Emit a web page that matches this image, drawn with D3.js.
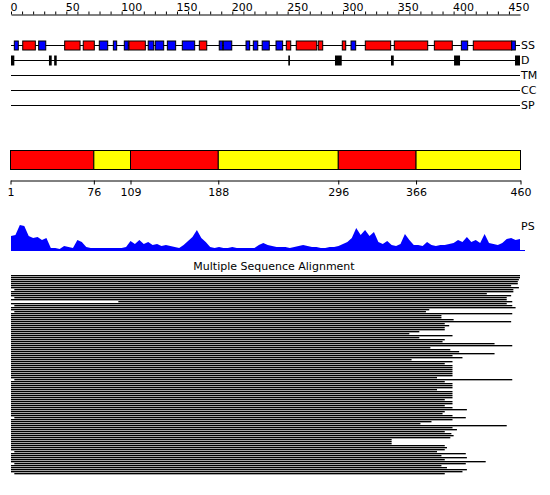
<!DOCTYPE html>
<html>
<head>
<meta charset="utf-8">
<script src="https://cdn.jsdelivr.net/npm/d3@7"></script>
<style>
  html, body { margin: 0; padding: 0; background: #fff; }
  svg { display: block; font-family: "DejaVu Sans", sans-serif; }
</style>
</head>
<body>
<div id="chart"></div>
<script>
// ---------------- DATA ----------------
const seqLength = 460;
const axisTicks = [0,10,20,30,40,50,60,70,80,90,100,110,120,130,140,150,160,170,180,190,200,210,220,230,240,250,260,270,280,290,300,310,320,330,340,350,360,370,380,390,400,410,420,430,440,450];
const axisLabels = [0,50,100,150,200,250,300,350,400,450];

// Secondary structure segments (H = helix red, E = strand blue)
const ssStart = [3,10.6,25,48.5,65.3,79.8,92.5,102.4,106.6,124,130.4,141.3,154.8,170.2,188.2,191.9,212.4,219,227,239.5,248.8,257.8,277.7,299.4,307.3,320.2,346.4,382.6,407,417.8,452.5];
const ssEnd   = [6.6,22,31.4,62.4,75.3,87.4,95.5,106,121.4,129,138,148.8,166,176.9,191.3,199.5,215.7,223,233.4,245.5,252.8,276.3,281.7,302.5,311.5,343.1,376.6,398.8,412.7,452.5,455.8];
const ssType  = ['E','H','E','H','H','E','E','E','H','E','E','E','E','H','E','E','E','E','E','E','H','H','H','H','E','H','H','H','E','H','E'];

// Disorder segments
const disStart = [0,34.3,39,250.6,292.8,343.4,400.4,455.5];
const disEnd   = [3,36.8,41.3,252.1,298.9,345.9,405.8,460];

const trackNames = ['SS','D','TM','CC','SP'];

// Domain boundaries
const domainStart = [1,76,109,188,296,366];
const domainEnd   = [76,109,188,296,366,460];
const domainClass = ['A','B','A','B','A','B'];
const domainTicks = [1,76,109,188,296,366,460];

// Prediction strength profile (every 4 residues)
const psValues = [14,15,25,24,14,12,13,10,12,2,2,1,4,3,2,10,8,3,2,2,2,2,2,2,2,2,3,9,6,10,6,8,5,6,4,5,4,3,2,5,9,13,20,12,8,3,2,3,2,2,3,2,2,2,2,2,5,7,5,4,3,3,3,2,3,4,5,4,3,3,2,2,3,3,4,6,8,12,22,15,20,14,18,8,6,9,5,4,6,16,10,5,5,4,8,5,4,5,5,6,7,10,8,13,8,10,7,16,7,6,5,7,11,12,10,11];
const psStep = 4;

// Multiple sequence alignment: aligned residue range per sequence
const msaStart = [0,0,0,0,0,0,0,3,0,0,0,3,0,97,0,3,0,0,3,0,0,0,0,0,0,0,0,0,0,0,0,0,0,0,0,0,0,0,0,0,0,0,0,0,0,0,0,0,0,0,0,0,3,0,0,0,0,0,0,0,0,0,0,0,0,0,0,0,0,0,0,3,0,0,0,0,0,0,0,0,0,0,0,0,0,0,0,0,3,0,0,0,0,0,3,0,0,0,0,3];
const msaEnd = [460,460,459,458,458,452,459,454,454,430,452,448,448,453,448,453,456,378,375,453,389,389,400,452,392,396,392,392,369,360,399,369,392,390,437,453,379,397,405,437,399,408,362,399,392,399,399,399,399,399,399,385,453,392,399,399,399,385,399,399,399,399,392,399,399,392,399,412,392,390,399,411,399,380,370,448,399,403,392,398,400,397,344,344,344,392,394,392,385,411,389,412,392,429,411,389,394,412,408,392];

// ---------------- DRAW ----------------
const W = 550, H = 495;
const svg = d3.select('#chart').append('svg').attr('width', W).attr('height', H);

const x = d3.scaleLinear().domain([0, seqLength]).range([11, 520]);
const xd = d3.scaleLinear().domain([1, seqLength]).range([10.5, 520.5]);

// Top ruler
const topAxis = d3.axisTop(x).tickValues(axisTicks).tickSize(3).tickSizeOuter(0)
  .tickFormat(d => axisLabels.includes(d) ? d : '');
const gTop = svg.append('g').attr('transform', 'translate(0,14.5)').call(topAxis);
gTop.select('.domain').attr('stroke', '#000');
gTop.selectAll('.tick line').attr('stroke', '#000');
gTop.selectAll('.tick text').attr('text-anchor', 'start').attr('dx', -1).attr('y', -4)
  .attr('font-size', 11).attr('fill', '#000').attr('font-family', '"DejaVu Sans", sans-serif');

// Tracks
const trackY = d3.scalePoint().domain(trackNames).range([45.5, 105.5]);
const gTracks = svg.append('g');
gTracks.selectAll('line.track').data(trackNames).join('line')
  .attr('x1', x(0)).attr('x2', x(seqLength))
  .attr('y1', d => trackY(d)).attr('y2', d => trackY(d))
  .attr('stroke', '#000').attr('stroke-width', 1);
gTracks.selectAll('text.tlabel').data(trackNames).join('text')
  .attr('x', 520).attr('y', d => trackY(d)).attr('dy', '0.36em')
  .attr('font-size', 11).attr('dx', 1).text(d => d);

const ssColor = d3.scaleOrdinal().domain(['H','E']).range(['#ff0000','#0000ff']);
const ssData = ssStart.map((s, i) => ({s, e: ssEnd[i], t: ssType[i]}));
gTracks.selectAll('rect.ss').data(ssData).join('rect')
  .attr('x', d => x(d.s)).attr('width', d => x(d.e) - x(d.s))
  .attr('y', trackY('SS') - 4.5).attr('height', 9)
  .attr('fill', d => ssColor(d.t)).attr('stroke', '#000').attr('stroke-width', 1);

const disData = disStart.map((s, i) => ({s, e: disEnd[i]}));
gTracks.selectAll('rect.dis').data(disData).join('rect')
  .attr('x', d => x(d.s)).attr('width', d => Math.max(1, x(d.e) - x(d.s)))
  .attr('y', trackY('D') - 5).attr('height', 10)
  .attr('fill', '#000');

// Domain bar
const domColor = d3.scaleOrdinal().domain(['A','B']).range(['#ff0000','#ffff00']);
const domData = domainStart.map((s, i) => ({s, e: domainEnd[i], c: domainClass[i]}));
svg.append('g').selectAll('rect').data(domData).join('rect')
  .attr('x', d => xd(d.s)).attr('width', d => xd(d.e) - xd(d.s))
  .attr('y', 150.5).attr('height', 19)
  .attr('fill', d => domColor(d.c)).attr('stroke', '#000').attr('stroke-width', 1);

const domAxis = d3.axisBottom(xd).tickValues(domainTicks).tickSize(4).tickSizeOuter(0).tickFormat(d3.format('d'));
const gDom = svg.append('g').attr('transform', 'translate(0,180.5)').call(domAxis);
gDom.select('.domain').attr('stroke', '#000');
gDom.selectAll('.tick line').attr('stroke', '#000');
gDom.selectAll('.tick text').attr('font-size', 11).attr('fill', '#000').attr('y', 8)
  .attr('font-family', '"DejaVu Sans", sans-serif');

// PS profile
const psY = d3.scaleLinear().domain([0, 25]).range([250, 225]);
const area = d3.area().x((d, i) => x(i * psStep)).y0(250).y1(d => psY(d));
svg.append('path').datum(psValues).attr('d', area).attr('fill', '#0000ff');
svg.append('line').attr('x1', x(0)).attr('x2', 525).attr('y1', 250.5).attr('y2', 250.5)
  .attr('stroke', '#0000ff');
svg.append('text').attr('x', 521).attr('y', 230).attr('font-size', 11).text('PS');

// MSA
svg.append('text').attr('x', 274).attr('y', 270).attr('text-anchor', 'middle')
  .attr('font-size', 11).text('Multiple Sequence Alignment');
const rowY = d3.scaleLinear().domain([0, msaEnd.length - 1]).range([275, 275 + 2 * (msaEnd.length - 1)]);
const msaData = msaEnd.map((e, i) => ({s: msaStart[i], e, i}));
svg.append('g').selectAll('rect').data(msaData).join('rect')
  .attr('x', d => x(d.s)).attr('width', d => x(d.e) - x(d.s))
  .attr('y', d => rowY(d.i)).attr('height', 1.35)
  .attr('fill', '#000');
</script>
</body>
</html>
